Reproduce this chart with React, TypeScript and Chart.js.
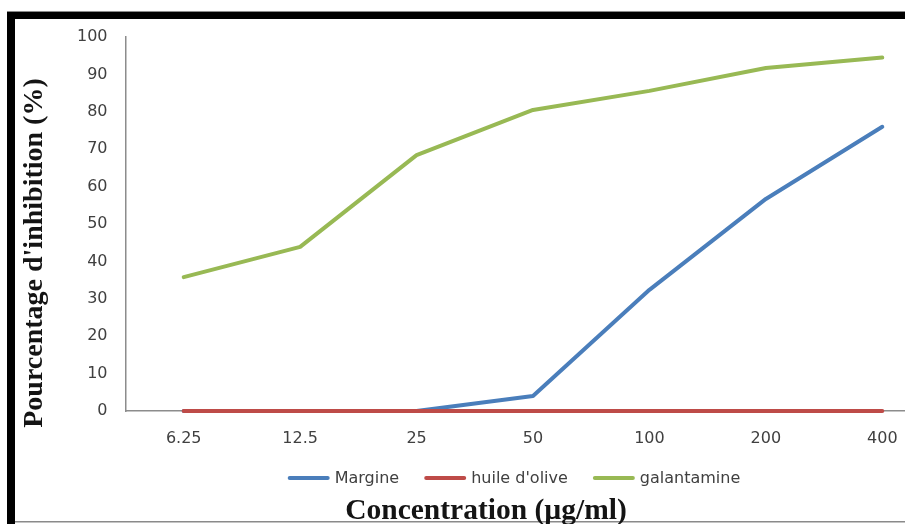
import React, { useEffect, useRef } from "react";
import { Chart, registerables } from "chart.js";

Chart.register(...registerables);

const categories = ["6.25", "12.5", "25", "50", "100", "200", "400"];
const margine = [0, 0, 0, 4.0, 32.4, 56.7, 76.0];
const huileOlive = [0, 0, 0, 0, 0, 0, 0];
const galantamine = [35.8, 43.9, 68.4, 80.5, 85.6, 91.7, 94.5];
const seriesNames = ["Margine", "huile d'olive", "galantamine"];
const seriesColors = ["#4A7EBB", "#BE4B48", "#98B954"];
const yMin = 0;
const yMax = 100;
const yStep = 10;
const yTitle = "Pourcentage d'inhibition (%)";
const xTitle = "Concentration (µg/ml)";

const CANVAS_W = 950;
const CANVAS_H = 524;

const decorPlugin = {
  id: "decor",
  beforeDraw(chart: any) {
    const ctx = chart.ctx;
    ctx.save();
    ctx.fillStyle = "#ffffff";
    ctx.fillRect(0, 0, chart.width, chart.height);
    ctx.restore();
  },
  afterDraw(chart: any) {
    const ctx = chart.ctx;
    ctx.save();
    // frame
    ctx.fillStyle = "#8a8a8a";
    ctx.fillRect(7, 11, chart.width - 7, 1);
    ctx.fillRect(15, 521, chart.width - 15, 1.5);
    ctx.fillStyle = "#000000";
    ctx.fillRect(7, 12, chart.width - 7, 7);
    ctx.fillRect(7, 12, 8, chart.height - 12);

    // y title
    ctx.save();
    ctx.fillStyle = "#141414";
    ctx.font = 'bold 28px "Liberation Serif"';
    ctx.textAlign = "center";
    ctx.textBaseline = "alphabetic";
    ctx.translate(42, 253);
    ctx.rotate(-Math.PI / 2);
    ctx.fillText(yTitle, 0, 0);
    ctx.restore();

    // x title
    ctx.fillStyle = "#141414";
    ctx.font = 'bold 29.5px "Liberation Serif"';
    ctx.textAlign = "center";
    ctx.textBaseline = "alphabetic";
    ctx.fillText(xTitle, 486, 519);

    // legend
    ctx.font = '16px "DejaVu Sans"';
    ctx.textAlign = "left";
    ctx.textBaseline = "middle";
    const lineLen = 42;
    const gapText = 5;
    const gapItem = 25;
    const widths = seriesNames.map((n) => ctx.measureText(n).width);
    const total =
      widths.reduce((a, w) => a + lineLen + gapText + w, 0) +
      gapItem * (seriesNames.length - 1);
    let x = 514 - total / 2;
    const ly = 478;
    seriesNames.forEach((name, i) => {
      ctx.strokeStyle = seriesColors[i];
      ctx.lineWidth = 4;
      ctx.lineCap = "round";
      ctx.beginPath();
      ctx.moveTo(x + 2, ly);
      ctx.lineTo(x + lineLen - 2, ly);
      ctx.stroke();
      ctx.fillStyle = "#404040";
      ctx.fillText(name, x + lineLen + gapText, ly + 1);
      x += lineLen + gapText + widths[i] + gapItem;
    });
    ctx.restore();
  },
};

export default function App() {
  const canvasRef = useRef<HTMLCanvasElement | null>(null);

  useEffect(() => {
    if (!canvasRef.current) return;
    const series = [margine, huileOlive, galantamine];
    const drawOrder = [1, 0, 2];
    const chart = new Chart(canvasRef.current, {
      type: "line",
      data: {
        labels: categories,
        datasets: seriesNames.map((name, i) => ({
          label: name,
          data: series[i],
          borderColor: seriesColors[i],
          backgroundColor: seriesColors[i],
          borderWidth: 4,
          pointRadius: 0,
          tension: 0,
          borderJoinStyle: "round" as const,
          borderCapStyle: "round" as const,
          order: drawOrder[i],
          clip: 4,
        })),
      },
      options: {
        responsive: false,
        animation: false,
        devicePixelRatio: 1,
        layout: { padding: { top: 37, left: 0, right: 9.5, bottom: 0 } },
        plugins: {
          legend: { display: false },
          tooltip: { enabled: false },
          title: { display: false },
        },
        scales: {
          x: {
            type: "category",
            offset: true,
            grid: { display: false, drawTicks: false, tickLength: 0 },
            border: { display: true, color: "#8c8c8c", width: 1.5 },
            ticks: {
              color: "#404040",
              font: { family: "DejaVu Sans", size: 16 },
              padding: 18,
              maxRotation: 0,
              autoSkip: false,
            },
            afterFit: (s: any) => {
              s.height = 113;
            },
          },
          y: {
            min: yMin,
            max: yMax,
            grid: { display: false, drawTicks: false, tickLength: 0 },
            border: { display: true, color: "#8c8c8c", width: 1.5 },
            ticks: {
              stepSize: yStep,
              color: "#404040",
              font: { family: "DejaVu Sans", size: 16 },
              padding: 18,
            },
            afterFit: (s: any) => {
              s.width = 125.5;
            },
          },
        },
      },
      plugins: [decorPlugin],
    });
    return () => chart.destroy();
  }, []);

  return (
    <div
      style={{
        position: "fixed",
        left: 0,
        top: 0,
        width: 905,
        height: 524,
        overflow: "hidden",
        background: "#fff",
      }}
    >
      <canvas
        ref={canvasRef}
        width={CANVAS_W}
        height={CANVAS_H}
        style={{ display: "block" }}
      />
    </div>
  );
}
